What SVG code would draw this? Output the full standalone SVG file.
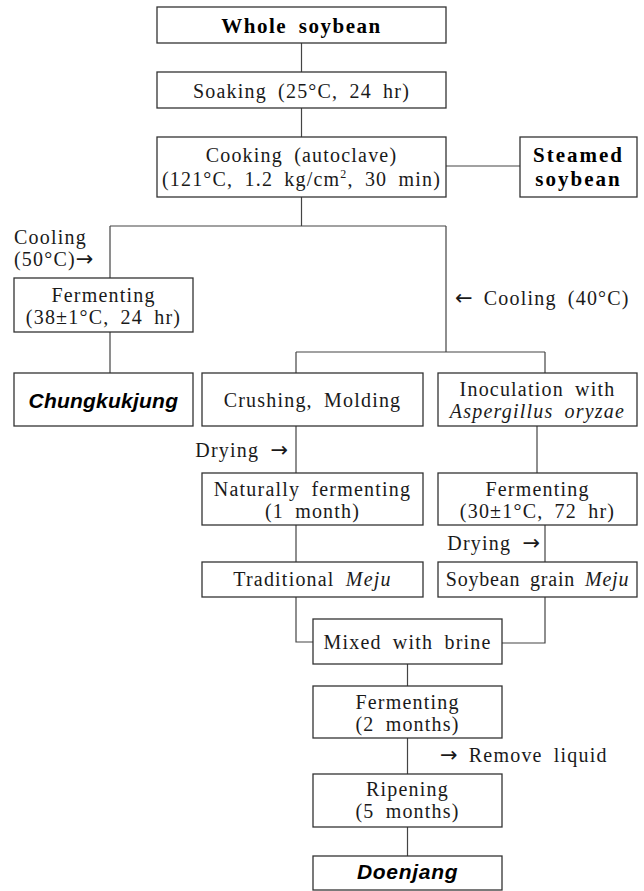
<svg xmlns="http://www.w3.org/2000/svg" width="644" height="891" viewBox="0 0 644 891">
<style>
.box{fill:#fff;stroke:#333;stroke-width:1.3}
.ln{stroke:#444;stroke-width:1.2;fill:none}
text{font-family:"Liberation Serif","Times New Roman","DejaVu Serif",serif;font-size:20px;letter-spacing:1.2px;word-spacing:5px;fill:#1a1a1a;text-anchor:middle}
.b{font-weight:bold;fill:#000;font-size:21px}
.bi{font-family:"Liberation Sans",Arial,sans-serif;font-weight:bold;font-style:italic;fill:#000;font-size:21px;letter-spacing:0.5px}
.l{text-anchor:start}
.r{text-anchor:end}
.i{font-style:italic}
.ar{font-family:"DejaVu Sans",sans-serif;font-size:21px;letter-spacing:0}
</style>
<rect width="644" height="891" fill="#fff"/>
<g id="connectors">
<path class="ln" d="M301.5 43V72M301.5 108V137M301.5 197V226M446 166H520M110 226H446M110 226V278M110 332V373M446 226V352M296 352H545M296 352V373M545 352V373M296 426V473M296 525V562M296 597V642H313M537 426V473M545 525V562M545 597V643H502M407.5 664V686M407.5 738V774M407.5 827V856"/>
</g>
<g id="whole-soybean"><rect class="box" x="157" y="7" width="289" height="36"/><text class="b" x="301.5" y="33" style="letter-spacing:1.5px">Whole soybean</text></g>
<g id="soaking"><rect class="box" x="157" y="72" width="289" height="36"/><text x="301.5" y="98">Soaking (25°C, 24 hr)</text></g>
<g id="cooking"><rect class="box" x="157" y="137" width="289" height="60"/><text x="301.5" y="162">Cooking (autoclave)</text><text x="301.5" y="186">(121°C, 1.2 kg/cm<tspan dy="-8" font-size="12">2</tspan><tspan dy="8">, 30 min)</tspan></text></g>
<g id="steamed-soybean"><rect class="box" x="520" y="137" width="117" height="60"/><text class="b" x="578.5" y="162" style="letter-spacing:2px">Steamed</text><text class="b" x="578.5" y="186" style="letter-spacing:2px">soybean</text></g>
<g id="label-cooling-50"><text class="l" x="14" y="244">Cooling</text><text class="l" x="14" y="266">(50°C)<tspan class="ar">→</tspan></text></g>
<g id="label-cooling-40"><text class="l" x="455" y="305"><tspan class="ar">←</tspan> Cooling (40°C)</text></g>
<g id="fermenting-38"><rect class="box" x="14" y="278" width="179" height="54"/><text x="103.5" y="302">Fermenting</text><text x="103.5" y="324">(38±1°C, 24 hr)</text></g>
<g id="chungkukjung"><rect class="box" x="14" y="373" width="179" height="53"/><text class="bi" x="103.5" y="408" textLength="150" lengthAdjust="spacing">Chungkukjung</text></g>
<g id="crushing-molding"><rect class="box" x="202" y="373" width="221" height="53"/><text x="312.5" y="407">Crushing, Molding</text></g>
<g id="inoculation"><rect class="box" x="438" y="373" width="199" height="53"/><text x="537.5" y="396">Inoculation with</text><text class="i" x="537.5" y="418">Aspergillus oryzae</text></g>
<g id="label-drying-1"><text class="r" x="288" y="457">Drying <tspan class="ar">→</tspan></text></g>
<g id="naturally-fermenting"><rect class="box" x="202" y="473" width="221" height="52"/><text x="312.5" y="496">Naturally fermenting</text><text x="312.5" y="518">(1 month)</text></g>
<g id="fermenting-30"><rect class="box" x="438" y="473" width="199" height="52"/><text x="537.5" y="496">Fermenting</text><text x="537.5" y="518">(30±1°C, 72 hr)</text></g>
<g id="label-drying-2"><text class="r" x="540" y="550">Drying <tspan class="ar">→</tspan></text></g>
<g id="traditional-meju"><rect class="box" x="202" y="562" width="221" height="35"/><text x="312.5" y="586">Traditional <tspan class="i">Meju</tspan></text></g>
<g id="soybean-grain-meju"><rect class="box" x="438" y="562" width="199" height="35"/><text x="537.5" y="586" style="letter-spacing:0.8px;word-spacing:4px">Soybean grain <tspan class="i">Meju</tspan></text></g>
<g id="mixed-with-brine"><rect class="box" x="313" y="619" width="189" height="45"/><text x="407.5" y="649">Mixed with brine</text></g>
<g id="fermenting-2m"><rect class="box" x="313" y="686" width="189" height="52"/><text x="407.5" y="709">Fermenting</text><text x="407.5" y="731">(2 months)</text></g>
<g id="label-remove-liquid"><text class="l" x="440" y="762"><tspan class="ar">→</tspan> Remove liquid</text></g>
<g id="ripening"><rect class="box" x="313" y="774" width="189" height="53"/><text x="407.5" y="796">Ripening</text><text x="407.5" y="818">(5 months)</text></g>
<g id="doenjang"><rect class="box" x="313" y="856" width="189" height="34"/><text class="bi" x="407.5" y="879" textLength="101" lengthAdjust="spacing">Doenjang</text></g>
</svg>
